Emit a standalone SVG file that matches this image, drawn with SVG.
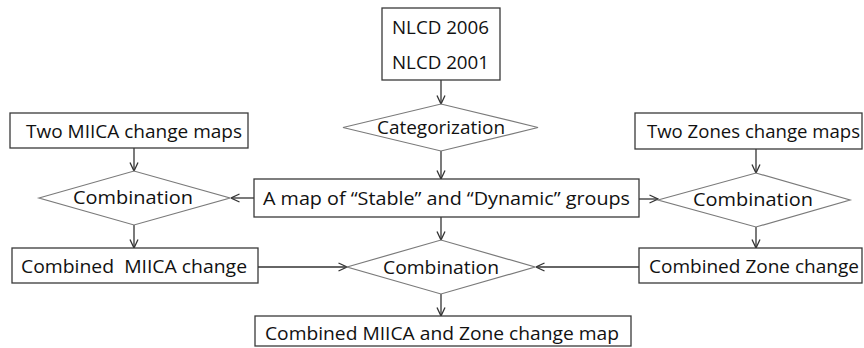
<svg xmlns="http://www.w3.org/2000/svg" width="864" height="348" viewBox="0 0 864 348">
<style>
.box{fill:#fff;stroke:#3a3a3a;stroke-width:1.3}
.dia{fill:#fff;stroke:#7a7a7a;stroke-width:1.2}
.t{font-family:"Open Sans","Noto Sans","Liberation Sans",sans-serif;font-size:19px;fill:#111}
.c{stroke:#333;stroke-width:1.3;fill:none;marker-end:url(#ah)}
</style>
<defs>
<marker id="ah" viewBox="0 0 10 10" refX="9.5" refY="5" markerWidth="10" markerHeight="10" markerUnits="userSpaceOnUse" orient="auto">
<path d="M1,1 L9.5,5 L1,9" fill="none" stroke="#333" stroke-width="1.3"/>
</marker>
</defs>
<rect width="864" height="348" fill="#fff"/>
<g id="connectors">
<line class="c" x1="441" y1="80" x2="441" y2="104"/>
<line class="c" x1="134" y1="148" x2="134" y2="171"/>
<line class="c" x1="756" y1="149" x2="756" y2="173"/>
<line class="c" x1="254" y1="198" x2="231" y2="198"/>
<line class="c" x1="639" y1="199" x2="658" y2="199"/>
<line class="c" x1="441" y1="151" x2="441" y2="179"/>
<line class="c" x1="441" y1="217" x2="441" y2="240"/>
<line class="c" x1="134" y1="225" x2="134" y2="248"/>
<line class="c" x1="756" y1="227" x2="756" y2="248"/>
<line class="c" x1="258" y1="267" x2="347" y2="267"/>
<line class="c" x1="639" y1="267" x2="536" y2="267"/>
<line class="c" x1="441" y1="294" x2="441" y2="316"/>
</g>
<g id="nlcd">
<rect class="box" x="382" y="8" width="118" height="72"/>
<text class="t" x="392" y="34" textLength="97" lengthAdjust="spacingAndGlyphs">NLCD 2006</text>
<text class="t" x="392" y="69" textLength="97" lengthAdjust="spacingAndGlyphs">NLCD 2001</text>
</g>
<g id="categorization">
<polygon class="dia" points="343,127.5 441,104 538,127.5 441,151"/>
<text class="t" x="377" y="134" textLength="128" lengthAdjust="spacingAndGlyphs">Categorization</text>
</g>
<g id="two-miica">
<rect class="box" x="10" y="113" width="238" height="35"/>
<text class="t" x="26" y="138" textLength="216" lengthAdjust="spacingAndGlyphs">Two MIICA change maps</text>
</g>
<g id="two-zones">
<rect class="box" x="635" y="113" width="227" height="36"/>
<text class="t" x="647" y="138" textLength="213" lengthAdjust="spacingAndGlyphs">Two Zones change maps</text>
</g>
<g id="combination-left">
<polygon class="dia" points="39,198 134,171 230,198 134,225"/>
<text class="t" x="73" y="204" textLength="120" lengthAdjust="spacingAndGlyphs">Combination</text>
</g>
<g id="stable-dynamic">
<rect class="box" x="254" y="179" width="385" height="38"/>
<text class="t" x="263" y="205" textLength="367" lengthAdjust="spacingAndGlyphs">A map of “Stable” and “Dynamic” groups</text>
</g>
<g id="combination-right">
<polygon class="dia" points="658,200 756,173 850,200 756,227"/>
<text class="t" x="693" y="206" textLength="120" lengthAdjust="spacingAndGlyphs">Combination</text>
</g>
<g id="combined-miica">
<rect class="box" x="12" y="248" width="246" height="35"/>
<text class="t" x="21" y="273" textLength="226" lengthAdjust="spacingAndGlyphs" xml:space="preserve">Combined  MIICA change</text>
</g>
<g id="combination-center">
<polygon class="dia" points="347,267 441,240 535,267 441,294"/>
<text class="t" x="383" y="274" textLength="116" lengthAdjust="spacingAndGlyphs">Combination</text>
</g>
<g id="combined-zone">
<rect class="box" x="639" y="248" width="223" height="35"/>
<text class="t" x="649" y="273" textLength="210" lengthAdjust="spacingAndGlyphs">Combined Zone change</text>
</g>
<g id="combined-final">
<rect class="box" x="255" y="316" width="376" height="30"/>
<text class="t" x="265" y="340" textLength="354" lengthAdjust="spacingAndGlyphs">Combined MIICA and Zone change map</text>
</g>
</svg>
